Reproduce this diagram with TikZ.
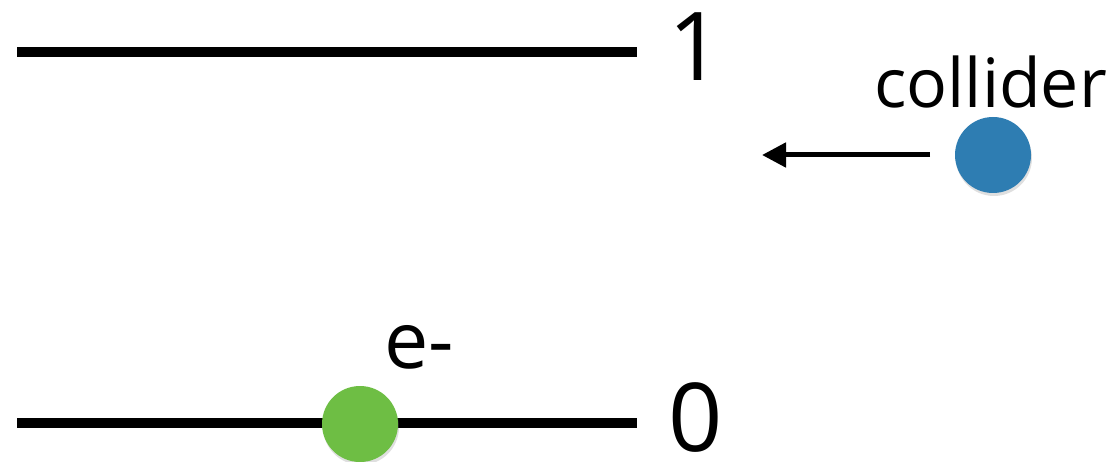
\documentclass[tikz,border=0pt]{standalone}
\usepackage{fontspec}
\setmainfont{Open Sans}
\usetikzlibrary{arrows.meta,shadows}
\definecolor{collblue}{HTML}{2E7DB2}
\definecolor{egreen}{HTML}{6EBE44}
\tikzset{
  level/.style={line width=10pt},
  lbl/.style={anchor=base west, inner sep=0pt, text=black},
  ball/.style={circle, minimum size=76pt, inner sep=0pt,
    drop shadow={shadow xshift=1pt, shadow yshift=-3pt, opacity=0.25}},
  motion/.style={line width=5pt, -{Triangle[length=24pt,width=24pt]}}
}
\begin{document}
\begin{tikzpicture}[x=1pt,y=-1pt]
\useasboundingbox (0,0) rectangle (1118,462);
% levels
\coordinate (l1a) at (17,52);
\coordinate (l1b) at (637,52);
\coordinate (l0a) at (17,423);
\coordinate (l0b) at (637,423);
\draw[level] (l1a) -- (l1b);
\draw[level] (l0a) -- (l0b);
\node[lbl, font=\fontsize{95}{95}\selectfont] (n1) at (668,81) {1};
\node[lbl, font=\fontsize{95}{95}\selectfont] (n0) at (668,451) {0};
% electron
\node[ball, fill=egreen] (e) at (360,424) {};
\node[lbl, font=\fontsize{79}{79}\selectfont] (elbl) at (384,368) {e-};
% collider
\node[ball, fill=collblue] (c) at (993,155) {};
\node[lbl, font=\fontsize{68}{68}\selectfont] (clbl) at (874,108) {collider};
\coordinate (as) at (930,155);
\coordinate (ae) at (762,155);
\draw[motion] (as) -- (ae);
\end{tikzpicture}
\end{document}
